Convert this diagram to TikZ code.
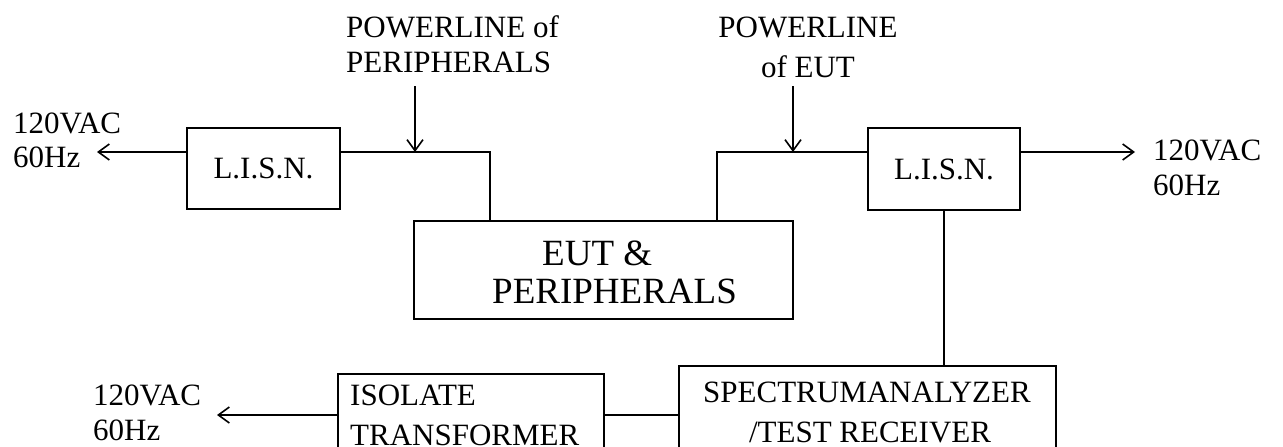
\documentclass[tikz,border=0pt]{standalone}
\usepackage{fontspec}
\setmainfont{Liberation Serif}
\usetikzlibrary{arrows.meta}
\tikzset{
  box/.style={draw, line width=1.6pt, inner sep=0pt, font=\fontsize{31}{35}\selectfont},
  wire/.style={line width=1.6pt},
  arr/.style={wire, -{Straight Barb[length=11pt,width=16pt,line width=1.6pt]}},
  lbl/.style={anchor=base west, inner sep=0pt, font=\fontsize{31}{35}\selectfont},
  lblc/.style={anchor=base, inner sep=0pt, font=\fontsize{31}{35}\selectfont},
  big/.style={anchor=base west, inner sep=0pt, font=\fontsize{37}{40}\selectfont},
}
\begin{document}
\begin{tikzpicture}[x=1pt,y=-1pt]
\path[use as bounding box] (0,0) rectangle (1283,447);
\clip (0,0) rectangle (1283,447);
% boxes
\node[box, minimum width=153pt, minimum height=81pt] (lisnL) at (263.5,168.5) {L.I.S.N.};
\node[box, minimum width=152pt, minimum height=82pt] (lisnR) at (944,169) {L.I.S.N.};
\node[box, minimum width=379pt, minimum height=98pt] (eut) at (603.5,270) {};
\node[box, minimum width=266pt, minimum height=106pt] (iso) at (471,427) {};
\node[box, minimum width=377pt, minimum height=114pt] (spec) at (867.5,423) {};
% box texts
\node[big] (eut1) at (542,265) {EUT \&};
\node[big] (eut2) at (492,303) {PERIPHERALS};
\node[lbl] (iso1) at (350,405) {ISOLATE};
\node[lbl] (iso2) at (350,445) {TRANSFORMER};
\node[lblc] (spec1) at (867,402) {SPECTRUMANALYZER};
\node[lblc] (spec2) at (870,442) {/TEST RECEIVER};
% outside labels
\node[lbl] (acL1) at (13,133) {120VAC};
\node[lbl] (acL2) at (13,167) {60Hz};
\node[lbl] (acR1) at (1153,160) {120VAC};
\node[lbl] (acR2) at (1153,195) {60Hz};
\node[lbl] (acB1) at (93,405) {120VAC};
\node[lbl] (acB2) at (93,440) {60Hz};
\node[lbl] (pp1) at (346,37) {POWERLINE of};
\node[lbl] (pp2) at (346,72) {PERIPHERALS};
\node[lblc] (pe1) at (808,37) {POWERLINE};
\node[lblc] (pe2) at (808,77) {of EUT};
% junction coordinates
\coordinate (jL) at (490,152);
\coordinate (jR) at (717,152);
\coordinate (jB) at (640,415);
\coordinate (tipL) at (97,152);
\coordinate (tipR) at (1135,152);
\coordinate (tipB) at (217,415);
\coordinate (ppS) at (415,86);
\coordinate (peS) at (793,86);
% connectors
\draw[wire] (lisnL.east |- jL) -- (jL) -- (jL |- eut.north);
\draw[wire] (lisnR.west |- jR) -- (jR) -- (jR |- eut.north);
\draw[arr] (lisnL.west |- jL) -- (tipL);
\draw[arr] (lisnR.east |- jR) -- (tipR);
\draw[arr] (ppS) -- (ppS |- jL);
\draw[arr] (peS) -- (peS |- jR);
\draw[wire] (lisnR.south) -- (lisnR.south |- spec.north);
\draw[wire] (iso.east |- jB) -- (spec.west |- jB);
\draw[arr] (iso.west |- jB) -- (tipB);
\end{tikzpicture}
\end{document}
